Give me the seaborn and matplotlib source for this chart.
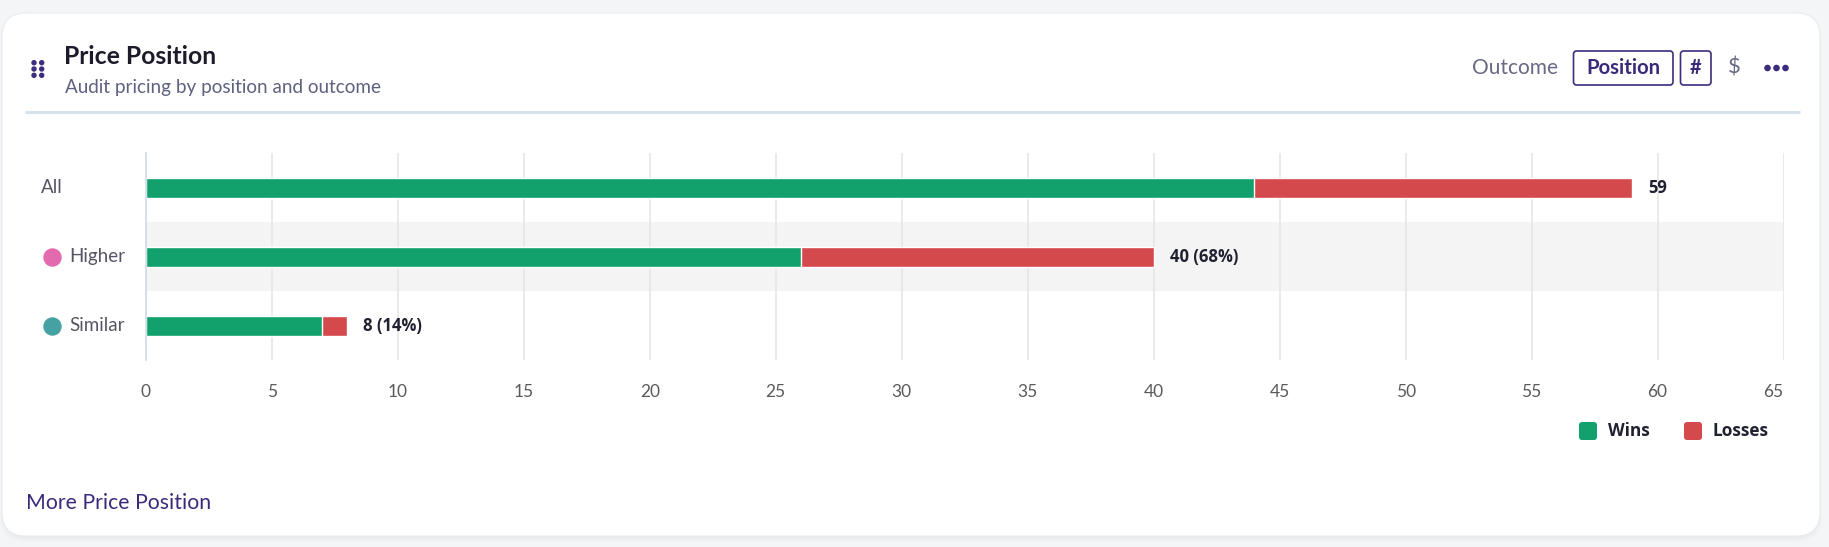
import numpy as np
import pandas as pd
import matplotlib
matplotlib.use("Agg")
import matplotlib.pyplot as plt
import seaborn as sns
from matplotlib.patches import FancyBboxPatch, Circle
from matplotlib.transforms import blended_transform_factory

# data
segments = ["All", "Higher", "Similar"]
wins = [44, 26, 7]
losses = [15, 14, 1]
x_ticks = [0, 5, 10, 15, 20, 25, 30, 35, 40, 45, 50, 55, 60, 65]
dot_colors = [None, "#E36AAE", "#46A2A2"]

GREEN = "#12A06C"
RED = "#D4494B"
PURPLE = "#3B2A7A"
GREY_TXT = "#676A82"

sns.set_style("white")
plt.rcParams['font.family'] = ['Lato', 'DejaVu Sans']

df = pd.DataFrame({'segment': segments, 'wins': wins, 'losses': losses})
df['total'] = df['wins'] + df['losses']
grand = df['total'].iloc[0]

fig = plt.figure(figsize=(18.29, 5.47), dpi=100)
fig.patch.set_facecolor("#F4F5F7")

# background axes in pixel coords for the card
bg = fig.add_axes([0, 0, 1, 1])
bg.set_xlim(0, 1829)
bg.set_ylim(547, 0)
bg.axis('off')
bg.set_zorder(0)

for i, a in enumerate([0.05, 0.04, 0.03]):
    bg.add_patch(FancyBboxPatch((2 - i, 14 + i), 1818 + 2 * i, 524 + i,
                                boxstyle="round,pad=0,rounding_size=26",
                                fc="#9AA0AA", ec="none", alpha=a))
bg.add_patch(FancyBboxPatch((2, 13), 1818, 523, boxstyle="round,pad=0,rounding_size=24",
                            fc="white", ec="#E9EBEF", lw=0.8))

# drag handle
for cx in [34, 41.7]:
    for cy in [62.7, 69, 75.3]:
        bg.add_patch(Circle((cx, cy), 2.0, color="#3E2C7E"))

bg.text(64, 64, "Price Position", fontsize=17.8, fontweight='bold', color="#1C1B29", va='baseline')
bg.text(65, 93, "Audit pricing by position and outcome", fontsize=13.6, color="#5E6180", va='baseline')
bg.plot([24.5, 1800], [112, 112], color="#D6E2EE", lw=2.3, solid_capstyle='butt')

# header controls
bg.text(1472, 68, "Outcome", fontsize=15, color=GREY_TXT, va='center', ha='left')
bg.add_patch(FancyBboxPatch((1573.5, 51), 99.5, 34, boxstyle="round,pad=0,rounding_size=3",
                            fc="white", ec="#3E2C7E", lw=1.2))
bg.text(1623, 68, "Position", fontsize=14.6, fontweight='bold', color=PURPLE, va='center', ha='center')
bg.add_patch(FancyBboxPatch((1680.5, 51), 30.5, 34, boxstyle="round,pad=0,rounding_size=3",
                            fc="white", ec="#3E2C7E", lw=1.2))
bg.text(1696, 68, "#", fontsize=14.5, fontweight='bold', color=PURPLE, va='center', ha='center')
bg.text(1734, 68, "$", fontsize=16, color=GREY_TXT, va='center', ha='center')
for cx in [1767.5, 1776.5, 1785.5]:
    bg.add_patch(Circle((cx, 68), 2.6, color="#3E2C7E"))

bg.text(26, 503, "More Price Position", fontsize=15.3, color=PURPLE, va='center', ha='left')

# legend
for x0, col, lab in [(1579, GREEN, "Wins"), (1684, RED, "Losses")]:
    bg.add_patch(FancyBboxPatch((x0, 422), 18, 18, boxstyle="round,pad=0,rounding_size=3",
                                fc=col, ec="none"))
    bg.text(x0 + 29, 431, lab, fontsize=12.4, fontweight='bold', color="#1F2030",
            va='center', ha='left', family=['Open Sans', 'DejaVu Sans'])

# main chart
ax = fig.add_axes([145.8 / 1829, 1 - 360.4 / 547, (1783.6 - 145.8) / 1829, (360.4 - 153.5) / 547])
ax.set_zorder(1)
ax.patch.set_alpha(0)

sns.barplot(data=df, y='segment', x='total', orient='h', color=RED, saturation=1,
            width=0.29, edgecolor='white', linewidth=1, errorbar=None, ax=ax)
sns.barplot(data=df, y='segment', x='wins', orient='h', color=GREEN, saturation=1,
            width=0.29, edgecolor='white', linewidth=1, errorbar=None, ax=ax)

ax.axhspan(0.5, 1.5, color="#F4F4F4", zorder=0.2, lw=0)
ax.set_xlim(0, 65)
ax.set_ylim(2.5, -0.5)
ax.set_xticks(x_ticks)
ax.set_yticks([0, 1, 2])
ax.set_yticklabels([])
ax.set_xlabel("")
ax.set_ylabel("")
ax.grid(axis='x', color="#E6E6E6", lw=1.2)
ax.set_axisbelow(True)
ax.tick_params(axis='x', length=0, pad=17, labelsize=12.5, labelcolor="#5A5A5A")
ax.tick_params(axis='y', length=0)
ax.get_xticklabels()[-1].set_horizontalalignment('right')
for s in ['top', 'right', 'bottom']:
    ax.spines[s].set_visible(False)
ax.spines['left'].set_color("#D3DAE8")
ax.spines['left'].set_linewidth(1.2)

# row labels with colored dots
trans = blended_transform_factory(bg.transData, ax.transData)
for i, seg in enumerate(segments):
    if dot_colors[i] is None:
        ax.text(40.7, i, seg, transform=trans, va='center', ha='left', fontsize=13.5, color="#555566")
    else:
        ax.scatter([52], [i], s=150, color=dot_colors[i], transform=trans, clip_on=False, zorder=5)
        ax.text(69, i, seg, transform=trans, va='center', ha='left', fontsize=13.5, color="#555566")

# totals at the end of the bars
for i, row in df.iterrows():
    if i == 0:
        lab = f"{row['total']}"
    else:
        lab = f"{row['total']} ({round(100 * row['total'] / grand)}%)"
    ax.annotate(lab, xy=(row['total'], i), xytext=(11.5, 0), textcoords='offset points',
                va='center', ha='left', fontsize=12, fontweight='bold', color="#1F2030",
                family=['Open Sans', 'DejaVu Sans'])

fig.savefig("out.png", dpi=100, facecolor=fig.get_facecolor())
